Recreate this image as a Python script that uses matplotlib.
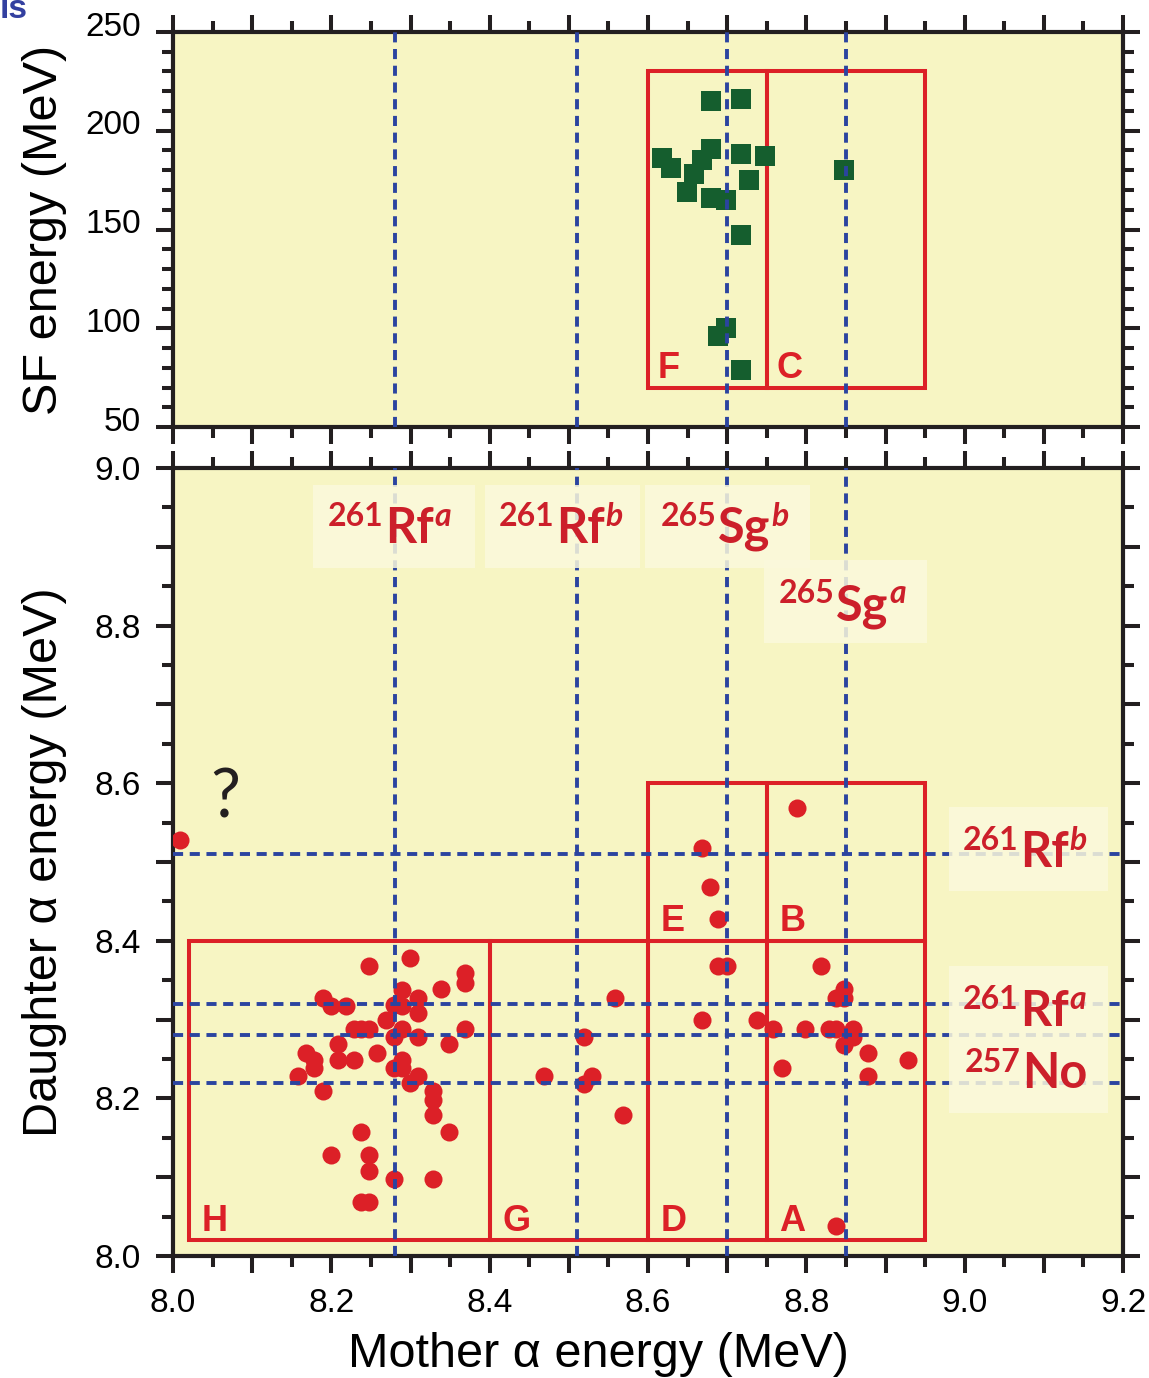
import numpy as np
import matplotlib.pyplot as plt
import matplotlib.transforms as mtransforms
from matplotlib.patches import Rectangle
from matplotlib.ticker import MultipleLocator, FuncFormatter

plt.rcParams['font.family'] = ['Liberation Sans', 'DejaVu Sans']

# SF events: mother alpha energy (MeV) vs SF energy (MeV)
sf_mother = [8.679, 8.718, 8.618, 8.629, 8.679, 8.668, 8.658, 8.649, 8.679,
             8.698, 8.718, 8.748, 8.727, 8.718, 8.848, 8.698, 8.688, 8.718]
sf_energy = [215, 216, 186, 181, 191, 185, 178, 169, 166,
             165, 188, 187, 175, 147, 180, 100, 96, 79]

# alpha-alpha correlations: mother vs daughter alpha energy (MeV)
aa_mother = [8.248, 8.299, 8.369, 8.369, 8.338, 8.289, 8.189, 8.199, 8.219, 8.279,
             8.289, 8.309, 8.309, 8.269, 8.228, 8.238, 8.248, 8.289, 8.279, 8.309,
             8.369, 8.209, 8.348, 8.168, 8.178, 8.209, 8.229, 8.258, 8.289, 8.178,
             8.279, 8.289, 8.309, 8.158, 8.299, 8.189, 8.328, 8.328, 8.328, 8.348,
             8.238, 8.199, 8.248, 8.248, 8.279, 8.328, 8.238, 8.248,
             8.468, 8.519, 8.529, 8.519, 8.569, 8.558,
             8.668, 8.678, 8.688, 8.688, 8.700, 8.668, 8.738,
             8.788, 8.818, 8.848, 8.838, 8.848, 8.758, 8.798, 8.828, 8.838, 8.859,
             8.859, 8.848, 8.878, 8.928, 8.769, 8.878, 8.838,
             8.009]
aa_daughter = [8.368, 8.378, 8.359, 8.347, 8.339, 8.338, 8.328, 8.317, 8.317, 8.319,
               8.317, 8.328, 8.308, 8.299, 8.288, 8.288, 8.288, 8.288, 8.278, 8.278,
               8.288, 8.269, 8.269, 8.258, 8.249, 8.249, 8.249, 8.258, 8.249, 8.239,
               8.239, 8.239, 8.229, 8.229, 8.219, 8.209, 8.209, 8.198, 8.179, 8.158,
               8.158, 8.128, 8.128, 8.108, 8.098, 8.098, 8.068, 8.068,
               8.229, 8.278, 8.229, 8.218, 8.179, 8.328,
               8.518, 8.468, 8.428, 8.368, 8.368, 8.299, 8.299,
               8.568, 8.368, 8.339, 8.328, 8.328, 8.288, 8.288, 8.288, 8.288, 8.288,
               8.278, 8.268, 8.258, 8.249, 8.239, 8.229, 8.038,
               8.528]

# reference alpha energies (dashed lines)
mother_refs = [8.28, 8.51, 8.70, 8.85]
daughter_refs = [8.51, 8.32, 8.28, 8.22]

# gates: (x0, x1, y0, y1, label)
sf_boxes = [(8.60, 8.75, 70, 230, 'F'), (8.75, 8.95, 70, 230, 'C')]
aa_boxes = [(8.02, 8.40, 8.02, 8.40, 'H'), (8.40, 8.60, 8.02, 8.40, 'G'),
            (8.60, 8.75, 8.02, 8.40, 'D'), (8.75, 8.95, 8.02, 8.40, 'A'),
            (8.60, 8.75, 8.40, 8.60, 'E'), (8.75, 8.95, 8.40, 8.60, 'B')]

# nuclide labels: mass number, symbol, state
nuc_mass = ['261', '261', '265', '265', '261', '261', '257']
nuc_sym = ['Rf', 'Rf', 'Sg', 'Sg', 'Rf', 'Rf', 'No']
nuc_state = ['a', 'b', 'b', 'a', 'b', 'a', '']
nuc_x = [8.299, 8.515, 8.722, 8.871, 9.101, 9.101, 9.114]
nuc_y = [8.905, 8.905, 8.905, 8.807, 8.494, 8.292, 8.213]
# pale panels behind the labels: (x0, x1, y0, y1)
nuc_panels = [(8.177, 8.381, 8.873, 8.978), (8.394, 8.590, 8.873, 8.978),
              (8.596, 8.804, 8.873, 8.978), (8.747, 8.953, 8.778, 8.883),
              (8.980, 9.181, 8.463, 8.570), (8.980, 9.181, 8.181, 8.368)]

bg = '#f7f5c3'
red = '#dc2027'
lab_red = '#cc1f2a'
blue = '#2b44a0'
green = '#155e2e'
ink = '#231f20'
dash = (0, (2.6, 1.7))

fig = plt.figure(figsize=(11.49, 13.78), dpi=100)
ax1 = fig.add_axes([0.1506, 0.6901, 0.8268, 0.2867])
ax2 = fig.add_axes([0.1506, 0.0885, 0.8268, 0.5719])

for ax in (ax1, ax2):
    ax.set_facecolor(bg)
    for s in ax.spines.values():
        s.set_linewidth(3.0)
        s.set_color(ink)
    ax.set_xlim(8.0, 9.2)
    ax.xaxis.set_major_locator(MultipleLocator(0.1))
    ax.xaxis.set_minor_locator(MultipleLocator(0.05))
    ax.tick_params(which='both', direction='out', top=True, right=True,
                   width=2.9, color=ink, labelsize=24, pad=11)
    ax.tick_params(which='major', length=12)
    ax.tick_params(which='minor', length=8)

even_fmt = FuncFormatter(lambda v, p: '%.1f' % v if abs(round(v * 10) % 2) == 0 else '')

# top panel
ax1.set_ylim(50, 250)
ax1.yaxis.set_major_locator(MultipleLocator(50))
ax1.yaxis.set_minor_locator(MultipleLocator(10))
ax1.tick_params(labelbottom=False)
# labels of the SF axis sit a little above their ticks
lift = mtransforms.ScaledTranslation(0, 6 / 72, fig.dpi_scale_trans)
for lbl in ax1.yaxis.get_majorticklabels():
    lbl.set_transform(lbl.get_transform() + lift)
ax1.plot(sf_mother, sf_energy, 's', color=green, ms=14.5, mew=0, zorder=3)
for x0, x1, y0, y1, lab in sf_boxes:
    ax1.add_patch(Rectangle((x0, y0), x1 - x0, y1 - y0, fill=False, ec=red, lw=2.9, zorder=2))
    ax1.text(x0 + 0.012, y0 + 5, lab, color=red, fontsize=26, fontweight='bold', zorder=5)
for x in mother_refs:
    ax1.axvline(x, color=blue, lw=2.8, ls=dash, zorder=4)
ax1.set_ylabel('SF energy (MeV)', fontsize=35)
ax1.yaxis.set_label_coords(-0.112, 0.5)

# bottom panel
ax2.set_ylim(8.0, 9.0)
ax2.yaxis.set_major_locator(MultipleLocator(0.1))
ax2.yaxis.set_minor_locator(MultipleLocator(0.05))
ax2.xaxis.set_major_formatter(even_fmt)
ax2.yaxis.set_major_formatter(even_fmt)
ax2.plot(aa_mother, aa_daughter, 'o', color=red, ms=13, mew=0, zorder=3)
for x0, x1, y0, y1, lab in aa_boxes:
    ax2.add_patch(Rectangle((x0, y0), x1 - x0, y1 - y0, fill=False, ec=red, lw=2.9, zorder=2))
    ax2.text(x0 + 0.016, y0 + 0.012, lab, color=red, fontsize=26, fontweight='bold', zorder=5)
for x in mother_refs:
    ax2.axvline(x, color=blue, lw=2.8, ls=dash, zorder=4)
for y in daughter_refs:
    ax2.axhline(y, color=blue, lw=2.8, ls=dash, zorder=4)

for x0, x1, y0, y1 in nuc_panels:
    ax2.add_patch(Rectangle((x0, y0), x1 - x0, y1 - y0, fc='#fbf9dc', ec='none',
                            alpha=0.85, zorder=5))
for m, s, st, x, y in zip(nuc_mass, nuc_sym, nuc_state, nuc_x, nuc_y):
    el = ax2.text(x, y, s, color=lab_red, fontsize=35, family='Lato', fontweight='bold',
                  ha='center', va='baseline', zorder=6)
    ax2.annotate(m, xy=(0, y), xycoords=(el, 'data'), xytext=(-1.5, 12),
                 textcoords='offset points', ha='right', va='baseline',
                 color=lab_red, fontsize=23, family='Lato', fontweight='bold', zorder=6)
    if st:
        ax2.annotate(st, xy=(1, y), xycoords=(el, 'data'), xytext=(0.5, 12),
                     textcoords='offset points', ha='left', va='baseline',
                     color=lab_red, fontsize=23, family='Lato', fontweight='bold',
                     style='italic', zorder=6)

ax2.text(8.066, 8.58, '?', fontsize=48, color=ink, family='Lato', ha='center', va='center')

ax2.set_xlabel('Mother α energy (MeV)', fontsize=35)
ax2.set_ylabel('Daughter α energy (MeV)', fontsize=35)
ax2.xaxis.set_label_coords(0.448, -0.097)
ax2.yaxis.set_label_coords(-0.112, 0.5)

fig.text(0.0, 0.993, 'ls', color='#3340a0', fontsize=24, fontweight='bold', va='center', ha='left')

fig.savefig('out.png', dpi=100)
